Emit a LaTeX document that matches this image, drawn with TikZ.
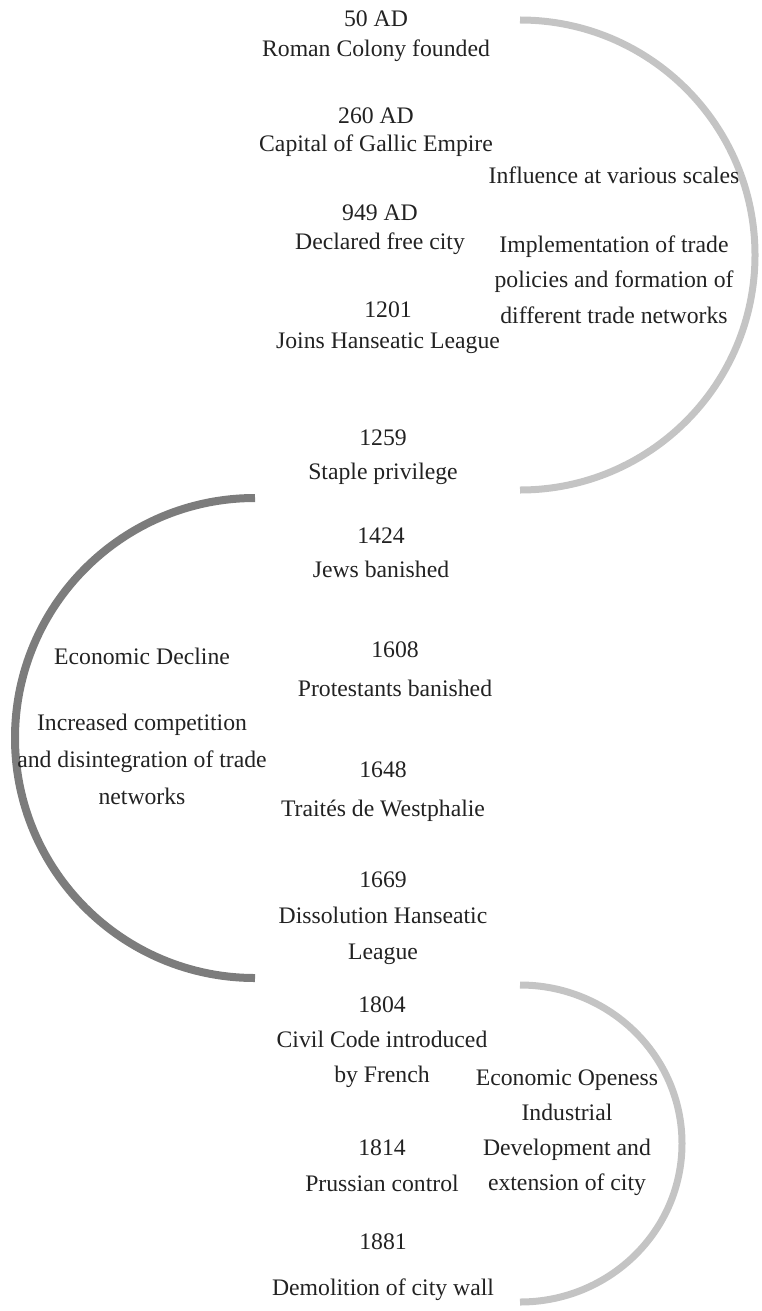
\documentclass[tikz,border=0pt]{standalone}
\usepackage{fontspec}
\setmainfont{Liberation Serif}
\definecolor{lightarc}{HTML}{C4C4C4}
\definecolor{darkarc}{HTML}{7C7C7C}
\definecolor{txt}{HTML}{222222}
\begin{document}
\begin{tikzpicture}[x=1pt,y=1pt,
  lbl/.style={align=center, inner sep=0pt, text=txt, font=\fontsize{23.7}{30}\selectfont},
  arcline/.style={line width=7pt}]
\useasboundingbox (0,0) rectangle (762,-1311);
% arcs
\coordinate (a1s) at (520,-20);
\coordinate (a2s) at (255,-498);
\coordinate (a3s) at (520,-985);
\draw[arcline, lightarc] (a1s) arc[start angle=90, end angle=-90, radius=235pt];
\draw[arcline, darkarc, line width=8pt] (a2s) arc[start angle=90, end angle=270, radius=240pt];
\draw[arcline, lightarc] (a3s) arc[start angle=90, end angle=-90, x radius=162pt, y radius=158.5pt];
% events
\node[lbl] (e1) at (376,-36) {50 AD\\[0pt]Roman Colony founded};
\node[lbl] (e2) at (376,-132) {260 AD\\[-2pt]Capital of Gallic Empire};
\node[lbl] (e3) at (380,-229.5) {949 AD\\[-1pt]Declared free city};
\node[lbl] (e4) at (388,-328) {1201\\[1pt]Joins Hanseatic League};
\node[lbl] (e5) at (383,-457) {1259\\[4pt]Staple privilege};
\node[lbl] (e6) at (381,-553) {1424\\[4pt]Jews banished};
\node[lbl] (e7) at (395,-669) {1608\\[9pt]Protestants banished};
\node[lbl] (e8) at (383,-792) {1648\\[9pt]Traités de Westphalie};
\node[lbl] (e9) at (383,-918.5) {1669\\[6pt]Dissolution Hanseatic\\[6pt]League};
\node[lbl] (e10) at (382,-1042.5) {1804\\[5pt]Civil Code introduced\\[5pt]by French};
\node[lbl] (e11) at (382,-1166) {1814\\[6pt]Prussian control};
\node[lbl] (e12) at (383,-1267) {1881\\[16pt]Demolition of city wall};
% phase descriptions
\node[lbl] (s1) at (614,-175) {Influence at various scales};
\node[lbl] (s2) at (614,-279.5) {Implementation of trade\\[5.5pt]policies and formation of\\[5.5pt]different trade networks};
\node[lbl] (s3) at (142,-656) {Economic Decline};
\node[lbl] (s4) at (142,-759) {Increased competition\\[7pt]and disintegration of trade\\[7pt]networks};
\node[lbl] (s5) at (567,-1132.5) {Economic Openess\\[5pt]Industrial\\[5pt]Development and\\[5pt]extension of city};
\end{tikzpicture}
\end{document}
